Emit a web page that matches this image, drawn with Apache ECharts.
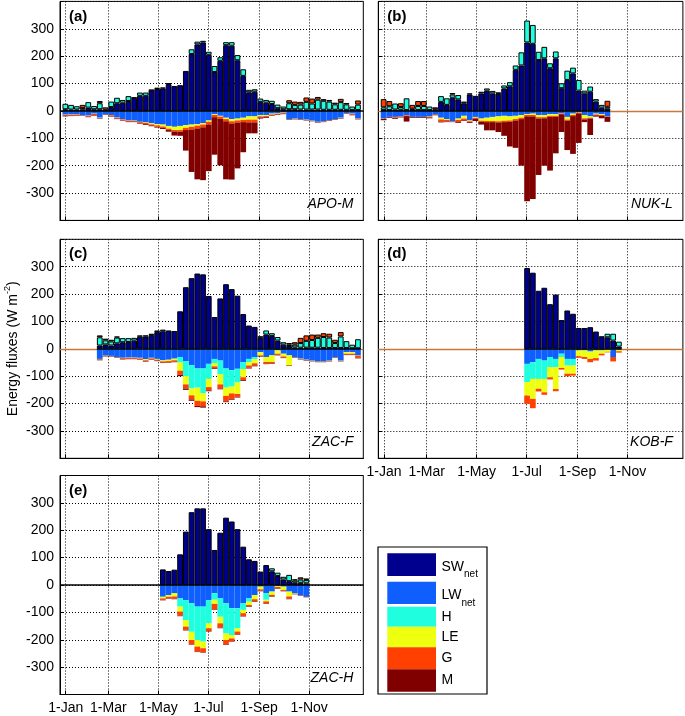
<!DOCTYPE html>
<html><head><meta charset="utf-8">
<script src="https://cdn.jsdelivr.net/npm/echarts@6/dist/echarts.min.js"></script>
<style>html,body{margin:0;padding:0;background:#fff}#c{width:685px;height:716px}</style>
</head><body><div id="c"></div>
<script>
// ---------- DATA (weekly means, W m-2) ----------
const components = ['SW', 'LW', 'H', 'LE', 'G', 'M'];
const legendSubs = ['net', 'net', '', '', '', ''];
const monthTickLabels = ['1-Jan', '1-Mar', '1-May', '1-Jul', '1-Sep', '1-Nov'];
const monthTickDays = [7, 59, 120, 181, 243, 304];
const yTicks = [-300, -200, -100, 0, 100, 200, 300];

// (a) APO-M, weeks 1-52
const firstWeekA = 1;
const swA = [6,5,5,5,12,6,6,4,14,28, 30,36,47,55,55,75,80,82,98,91, 94,146,208,243,250,205,142,183,240,238, 185,128,68,70,33,30,25,10,6,6, 6,5,5,5,5,4,4,4,4,4, 3,3];
const lwA = [-14,-13,-12,-15,-17,-10,-25,-12,-15,-24, -30,-35,-35,-40,-42,-45,-48,-50,-55,-58, -55,-52,-50,-48,-45,-35,-12,-18,-25,-30, -28,-25,-20,-20,-15,-15,-10,-8,-6,-30, -28,-30,-32,-35,-40,-38,-34,-30,-25,-8, -10,-28];
const hA  = [20,17,12,5,20,12,22,0,20,20, 10,18,2,12,12,2,5,3,3,0, 0,0,17,10,6,11,22,13,11,13, 19,24,9,9,12,10,12,13,10,22, 16,18,28,22,36,33,30,20,28,20, 13,20];
const leA = [-1,-1,-1,-1,-1,-1,-1,-1,-1,-1, -1,-1,-1,-1,-2,-4,-5,-7,-10,-12, -15,-10,-8,-6,-5,-5,-3,-3,-5,-8, -7,-8,-12,-12,-5,-4,-3,-2,-1,-1, -1,-1,-1,-1,-1,-1,-1,-1,-1,-1, -1,-1];
const gA  = [-3,-3,-3,12,-3,-5,8,9,-3,-3, -3,-3,-3,-4,-4,-4,-5,-5,-5,-5, -6,-8,-10,-10,-10,-10,-8,-8,-8,-8, -8,-8,-10,-10,-4,-4,-3,-3,-3,11, 12,10,16,18,10,6,6,6,12,5, -3,15];
const mA  = [-2,-2,-2,-2,-2,-2,-2,-2,-2,-2, -2,-2,-2,-2,-3,-3,-3,-4,-6,-15, -15,-75,-155,-186,-193,-170,-137,-170,-212,-205, -167,-110,-40,-40,-4,-3,-2,-2,-2,-2, -2,-2,-2,-2,-2,-2,-2,-2,-2,-2, -2,-2];

// (b) NUK-L, weeks 1-40
const firstWeekB = 1;
const swB = [3,3,5,4,3,4,3,3,3,6, 33,22,48,42,28,60,55,64,74,64, 62,82,90,150,166,250,245,186,192,156, 192,83,113,137,74,64,70,34,12,8];
const lwB = [-28,-22,-22,-20,-15,-22,-22,-22,-20,-12, -25,-30,-38,-28,-18,-35,-22,-28,-25,-22, -20,-18,-20,-18,-15,-12,-10,-15,-15,-12, -12,-8,-22,-10,-5,-15,-20,-10,-12,-20];
const hB  = [10,14,22,10,43,4,15,15,13,0, 21,24,12,16,6,4,0,6,8,9, 6,11,15,16,48,80,69,30,42,18, 25,18,34,21,39,10,19,9,10,7];
const leB = [-1,-1,-1,-1,-1,-1,-1,-1,-1,-1, -6,-3,-1,-5,-10,-3,-3,-8,-12,-15, -18,-18,-15,-12,-10,-3,-5,-8,-8,-6, -6,-1,-10,-5,-1,-12,-5,-3,-3,-1];
const gB  = [30,19,-3,14,-3,14,18,18,-3,7, -8,-6,5,-8,-5,-3,-4,-4,-4,-4, -4,-5,-5,-5,-5,-5,-5,-5,-4,-4, -4,-3,-4,-4,-3,-4,-3,-3,-3,22];
const mB  = [-5,-3,-3,-3,-20,-3,-3,-3,-3,-3, -3,-2,-2,-3,-3,-3,-8,-10,-30,-30, -35,-50,-90,-100,-170,-310,-302,-206,-173,-196, -133,-65,-107,-138,-108,-10,-60,-5,-9,-19];

// (c) ZAC-F, weeks 7-52
const firstWeekC = 7;
const swC = [12,16,12,20,24,25,30,44,45,50, 61,64,67,65,137,225,258,275,272,193, 116,184,236,218,194,127,85,80,40,52, 47,30,15,10,5,4,4,4,4,3, 3,3,3,3,2,2];
const lwC = [-37,-24,-26,-30,-33,-32,-32,-33,-38,-33, -37,-42,-40,-36,-30,-45,-60,-72,-72,-55, -37,-43,-72,-78,-73,-49,-37,-30,-12,-30, -24,-6,-18,-24,-30,-36,-40,-43,-46,-46, -43,-30,-43,-12,-12,-24];
const hC  = [30,15,15,21,15,14,10,5,4,5, 6,6,0,0,-20,-55,-85,-70,-90,-55, -15,-50,-70,-60,-50,-25,-12,-8,6,15, 10,13,9,5,10,17,25,28,36,40, 38,18,42,25,13,33];
const leC = [-2,-1,-1,-1,-1,-1,-1,-2,-4,-2, -3,-4,-5,-6,-30,-30,-25,-48,-30,-30, -12,-37,-30,-25,-42,-30,-12,-15,-12,-18, -24,-12,-10,-37,-1,-1,-1,-1,-1,-1, -1,-1,-1,-6,-6,-1];
const gC  = [7,6,6,4,-3,-3,-3,-3,-3,-3, -3,-4,-4,-5,-15,-15,-15,-18,-18,-12, -6,-15,-20,-20,-10,-10,-8,-8,-3,-6, -5,-4,-4,6,9,19,20,20,12,14, 14,12,16,-3,-3,-8];
const mC  = [-3,-3,-2,-2,-2,-2,-2,-2,-2,-2, -2,-2,-2,-2,-5,-5,-5,-5,-5,-3, -3,-3,-3,-3,-3,-3,-3,-3,-2,-2, -2,-2,-2,-2,-2,-2,-2,-2,-2,-2, -2,-2,-2,-2,-2,-2];

// (d) KOB-F, weeks 26-42
const firstWeekD = 26;
const swD = [295,278,212,223,163,198,105,140,128,76,76,79,63,46,42,30,8];
const lwD = [-55,-49,-37,-43,-30,-37,-18,-37,-37,-6,-6,-10,-6,-6,-3,-30,-3];
const hD  = [-67,-61,-73,-67,-37,-30,-12,-24,-24,0,0,0,0,0,13,25,18];
const leD = [-49,-73,-36,-49,-37,-80,-40,-30,-30,-21,-24,-27,-28,-12,-8,0,-6];
const gD  = [-30,-34,-10,-9,-8,-8,-6,-9,-7,-6,-7,-12,-9,-6,-2,-16,-5];
const mD  = [0,0,0,0,0,0,0,0,0,0,0,0,0,0,0,0,0];

// (e) ZAC-H, weeks 18-43
const firstWeekE = 18;
const swE = [57,51,56,112,195,266,280,280,204,128, 191,246,232,204,140,94,88,49,73,50, 33,20,14,8,8,6];
const lwE = [-43,-37,-30,-49,-55,-67,-79,-79,-55,-30, -49,-67,-85,-85,-67,-49,-37,-6,-30,-24, -4,-6,-24,-30,-37,-43];
const hE  = [0,0,0,-30,-73,-104,-122,-128,-85,-24, -67,-110,-98,-73,-24,-12,0,0,-24,11, 12,10,23,8,12,12];
const leE = [-6,-6,-12,-18,-24,-30,-24,-24,-18,-15, -24,-24,-12,-12,-12,-12,-15,-10,-6,-12, -3,-12,-18,-2,0,0];
const gE  = [-5,-5,-8,-15,-12,-15,-18,-14,-10,-20, -16,-16,-10,-10,-10,-5,-8,-5,-7,-5, -5,-3,-8,5,8,6];
const mE  = [-2,-2,-2,-2,-2,-2,-2,-2,-2,-2, -2,-2,-2,-2,-2,-2,-2,-2,-2,-2, -2,-2,-2,-2,-2,-2];

// ---------- STYLE / LAYOUT ----------
const FONT = '"Liberation Sans", Arial, Helvetica, sans-serif';
const COLORS = ['#00008F', '#0F5FFF', '#1FFFDF', '#EFFF10', '#FF4000', '#800000'];
const ZERO_TAN = '#C8783A';
const GH = 219;
const PX_PER_DAY = 303.3 / 370;
const WEEKS = 52;

const panels = [
  {tag:'(a)', site:'APO-M', first:firstWeekA, vals:[swA,lwA,hA,leA,gA,mA], left:60,    top:1.4,   w:303.3, yLab:true,  xLab:false, tan:false},
  {tag:'(b)', site:'NUK-L', first:firstWeekB, vals:[swB,lwB,hB,leB,gB,mB], left:378.3, top:1.4,   w:304.6, yLab:false, xLab:false, tan:true},
  {tag:'(c)', site:'ZAC-F', first:firstWeekC, vals:[swC,lwC,hC,leC,gC,mC], left:60,    top:239.3, w:303.3, yLab:true,  xLab:false, tan:true, yName:true},
  {tag:'(d)', site:'KOB-F', first:firstWeekD, vals:[swD,lwD,hD,leD,gD,mD], left:378.3, top:239.3, w:304.6, yLab:false, xLab:true,  tan:true},
  {tag:'(e)', site:'ZAC-H', first:firstWeekE, vals:[swE,lwE,hE,leE,gE,mE], left:60,    top:475.5, w:303.3, yLab:true,  xLab:true,  tan:false}
];

const grids = [], xAxes = [], yAxes = [], series = [], graphics = [];
const barPx = 7 * PX_PER_DAY;

panels.forEach((p, i) => {
  const dayMax = p.w / PX_PER_DAY;
  grids.push({left:p.left, top:p.top, width:p.w, height:GH, show:true, borderColor:'#000', borderWidth:1,
              backgroundColor:'transparent', containLabel:false, outerBoundsMode:'none'});
  xAxes.push({
    gridIndex:i, type:'value', min:0, max:dayMax, position:'bottom',
    axisLine:{show:true, onZero:false, lineStyle:{color:'#000', width:1}},
    axisTick:{show:true, inside:true, length:4, customValues:monthTickDays, lineStyle:{color:'#000'}},
    axisLabel:{show:p.xLab, customValues:monthTickDays, margin:7, color:'#000', fontSize:14, fontFamily:FONT,
               formatter:(v) => { const k = monthTickDays.indexOf(v); return k >= 0 ? monthTickLabels[k] : ''; }},
    splitLine:{show:true, lineStyle:{color:'#000', type:[1,2], width:1}}
  });
  const y = {
    gridIndex:i, type:'value', min:-400, max:400, interval:100,
    axisLine:{show:true, onZero:false, lineStyle:{color:'#000', width:1}},
    axisTick:{show:true, inside:true, length:4, lineStyle:{color:'#000'}},
    axisLabel:{show:p.yLab, margin:6, color:'#000', fontSize:14, fontFamily:FONT,
               formatter:(v) => yTicks.indexOf(v) >= 0 ? String(v) : ''},
    splitLine:{show:true, lineStyle:{color:'#000', type:[1,2], width:1}}
  };
  if (p.yName) {
    y.name = '{t|Energy fluxes (W m}{s|-2}{t|)}';
    y.nameLocation = 'middle';
    y.nameGap = 37;
    y.nameRotate = 90;
    y.nameTextStyle = {rich:{
      t:{fontSize:14, fontFamily:FONT, color:'#000', lineHeight:20},
      s:{fontSize:9, fontFamily:FONT, color:'#000', lineHeight:10, verticalAlign:'top'}
    }};
  }
  yAxes.push(y);

  const nWeeks = p.vals[0].length;
  const dataStart = 7 * p.first - 4;
  const dataEnd = 7 * (p.first + nWeeks - 1) + 3;

  components.forEach((c, ci) => {
    const arr = p.vals[ci];
    const data = [];
    for (let k = 1; k <= WEEKS; k++) {
      const idx = k - p.first;
      const v = (idx >= 0 && idx < arr.length) ? arr[idx] : null;
      const x = 7 * k - 0.5;             // week-centre day of year
      // flux first so the stacked dimension is the flux (y); day second (x)
      if (v == null || v === 0) data.push(['-', x]);
      else if (v > 0) data.push({value:[v, x], itemStyle:{borderColor:'#000', borderWidth:1}});
      else data.push({value:[v, x]});
    }
    const s = {
      type:'bar', name:c, xAxisIndex:i, yAxisIndex:i, stack:'p' + i, barWidth:barPx,
      dimensions:['flux', 'day'], encode:{x:'day', y:'flux'},
      itemStyle:{color:COLORS[ci], borderWidth:0}, emphasis:{disabled:true}, animation:false,
      data:data
    };
    if (ci === 0) {
      const lines = [];
      const seg = (a, b, col, w) => [{xAxis:a, yAxis:0, lineStyle:{color:col, width:w, type:'solid'}}, {xAxis:b, yAxis:0}];
      if (p.tan) {
        if (dataStart > 0) lines.push(seg(0, dataStart, ZERO_TAN, 1.3));
        lines.push(seg(dataStart, Math.min(dataEnd, dayMax), '#000', 1.5));
        if (dataEnd < dayMax) lines.push(seg(dataEnd, dayMax, ZERO_TAN, 1.3));
      } else {
        lines.push(seg(0, dayMax, '#000', 1.5));
      }
      s.markLine = {silent:true, symbol:['none','none'], label:{show:false}, animation:false,
                    lineStyle:{color:'#000', width:1.5, type:'solid'}, data:lines};
    }
    series.push(s);
  });

  graphics.push({type:'text', x:p.left + 9, y:p.top + 15, style:{text:p.tag, font:'bold 15px ' + FONT, fill:'#000', verticalAlign:'middle'}});
  graphics.push({type:'text', x:p.left + p.w - 10, y:p.top + GH - 16, style:{text:p.site, font:'italic 14px ' + FONT, fill:'#000', align:'right', verticalAlign:'middle'}});
});

// legend box
const LX0 = 378, LY0 = 547, LX1 = 487, LY1 = 694;
graphics.push({type:'rect', shape:{x:LX0, y:LY0, width:LX1 - LX0, height:LY1 - LY0}, style:{fill:'#fff', stroke:'#000', lineWidth:1.2}});
const rowEdges = [553.3, 576, 581.7, 604, 606.7, 626.7, 626.7, 647.3, 647.3, 669.3, 669.3, 691.7];
components.forEach((c, ci) => {
  const y0 = rowEdges[ci * 2], y1 = rowEdges[ci * 2 + 1];
  graphics.push({type:'rect', shape:{x:387.3, y:y0, width:48.7, height:y1 - y0}, style:{fill:COLORS[ci]}});
  const txt = legendSubs[ci] ? '{t|' + c + '}{s|' + legendSubs[ci] + '}' : '{t|' + c + '}';
  graphics.push({type:'text', x:441.5, y:(y0 + y1) / 2 + (legendSubs[ci] ? 2 : 0), style:{
    text:txt, verticalAlign:'middle', align:'left',
    rich:{t:{fontSize:14, fontFamily:FONT, fill:'#000', lineHeight:26},
          s:{fontSize:10, fontFamily:FONT, fill:'#000', lineHeight:10, verticalAlign:'bottom'}}
  }});
});

const chart = echarts.init(document.getElementById('c'), null, {renderer:'canvas'});
chart.setOption({
  animation:false,
  backgroundColor:'#fff',
  grid:grids, xAxis:xAxes, yAxis:yAxes, series:series, graphic:graphics
});
</script></body></html>
